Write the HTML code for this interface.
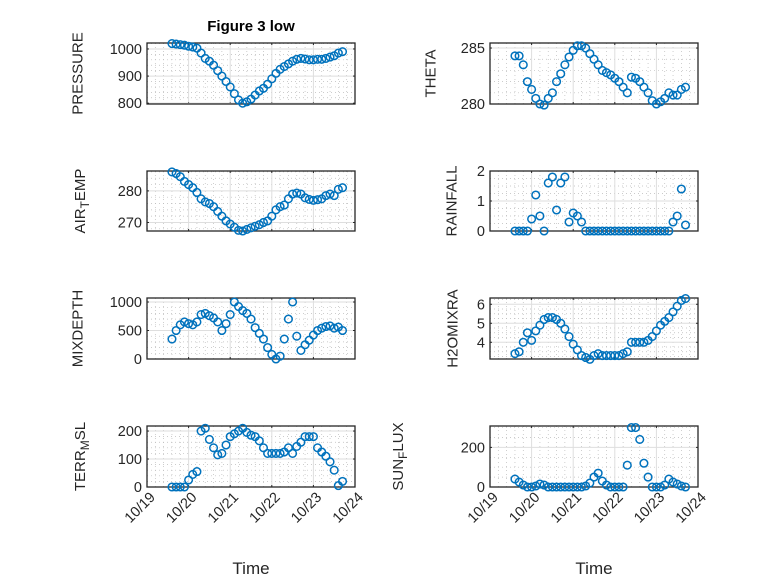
<!DOCTYPE html>
<html><head><meta charset="utf-8"><style>
html,body{margin:0;padding:0;background:#fff;}
svg text{font-family:"Liberation Sans","DejaVu Sans",sans-serif;fill:#262626;}
</style></head><body>
<svg id="fig" width="778" height="583" viewBox="0 0 778 583" xmlns="http://www.w3.org/2000/svg">
<rect width="778" height="583" fill="#fff"/>
<text x="251" y="31" text-anchor="middle" font-size="15" font-weight="bold" style="fill:#000">Figure 3 low</text>
</svg>
<script>
const tStart = 19.6, tStep = 0.1;
const xTicks = [19,20,21,22,23,24];
const xTickLabels = ['10/19','10/20','10/21','10/22','10/23','10/24'];
const pressure = [1020,1018,1016,1014,1010,1007,1003,985,965,955,940,920,900,880,860,835,812,800,805,815,830,845,855,870,890,910,925,935,945,955,962,965,963,960,960,962,962,965,970,975,985,990];
const airTemp = [286,285.5,284.5,283,282,281,279.5,277.5,276.5,276,275,273.5,272,270.5,269.5,268.5,267.5,267.3,267.8,268.3,268.8,269.3,270,270.5,272,274,275,275.5,277.5,279,279.3,279,277.8,277.3,277,277.2,277.5,278.5,279,278.5,280.5,281];
const mixDepth = [350,500,600,650,620,600,650,780,800,760,720,650,500,620,780,1000,920,850,800,700,550,450,350,200,80,0,50,350,700,1000,400,150,250,330,420,500,540,570,580,540,560,500];
const terrMsl = [0,0,0,0,25,45,55,200,210,170,140,115,120,150,180,190,200,210,195,185,180,165,140,120,120,120,120,125,140,120,145,160,180,180,180,140,125,110,90,60,5,20];
const theta = [284.3,284.3,283.5,282,281.3,280.5,280,279.9,280.5,281,282,282.7,283.5,284.2,284.8,285.2,285.2,285,284.5,284,283.5,283,282.8,282.6,282.3,282,281.5,281,282.4,282.3,282,281.5,281,280.3,280,280.2,280.5,281,280.8,280.8,281.3,281.5];
const rainfall = [0,0,0,0,0.4,1.2,0.5,0,1.6,1.8,0.7,1.6,1.8,0.3,0.6,0.5,0.3,0,0,0,0,0,0,0,0,0,0,0,0,0,0,0,0,0,0,0,0,0,0.3,0.5,1.4,0.2];
const h2o = [3.4,3.5,4.0,4.5,4.1,4.6,4.9,5.2,5.3,5.3,5.2,5.0,4.7,4.3,3.9,3.6,3.3,3.2,3.1,3.3,3.4,3.3,3.3,3.3,3.3,3.3,3.4,3.5,4.0,4.0,4.0,4.0,4.1,4.3,4.6,4.9,5.1,5.3,5.6,5.9,6.2,6.3];
const sunFlux = [40,25,10,0,0,5,15,10,0,0,0,0,0,0,0,0,0,5,20,50,70,30,10,0,0,0,0,110,300,300,240,120,50,0,0,0,10,40,25,15,5,0];

const NS='http://www.w3.org/2000/svg';
const svg=document.getElementById('fig');
function mk(tag,attrs,parent){const e=document.createElementNS(NS,tag);for(const k in attrs)e.setAttribute(k,attrs[k]);(parent||svg).appendChild(e);return e;}

const panels=[
 {name:'pressure',data:pressure,x0:147,y0:43,y1:104,ymin:797,ymax:1022,ticks:[800,900,1000],minor:20,label:['PRESSURE'],lx:78,last:false},
 {name:'theta',data:theta,x0:490,y0:43,y1:104,ymin:280,ymax:285.45,ticks:[280,285],minor:1,label:['THETA'],lx:431,last:false},
 {name:'air-temp',data:airTemp,x0:147,y0:171,y1:231,ymin:267.3,ymax:286.3,ticks:[270,280],minor:2,label:['AIR','T','EMP'],lx:80,last:false},
 {name:'rainfall',data:rainfall,x0:490,y0:171,y1:231,ymin:0,ymax:2,ticks:[0,1,2],minor:0.25,label:['RAINFALL'],lx:452,last:false},
 {name:'mixdepth',data:mixDepth,x0:147,y0:298,y1:359,ymin:0,ymax:1070,ticks:[0,500,1000],minor:100,label:['MIXDEPTH'],lx:78,last:false},
 {name:'h2omixra',data:h2o,x0:490,y0:298,y1:359,ymin:3.12,ymax:6.33,ticks:[4,5,6],minor:0.25,label:['H2OMIXRA'],lx:453,last:false},
 {name:'terr-msl',data:terrMsl,x0:147,y0:426,y1:487,ymin:0,ymax:218,ticks:[0,100,200],minor:20,label:['TERR','M','SL'],lx:80,last:true},
 {name:'sun-flux',data:sunFlux,x0:490,y0:426,y1:487,ymin:0,ymax:308,ticks:[0,200],minor:50,label:['SUN','F','LUX'],lx:398,last:true}
];
const W=208;
panels.forEach(p=>{
  const g=mk('g',{});
  
  
  const xs=t=>p.x0+(t-19)/5*W;
  const ys=v=>p.y1-(v-p.ymin)/(p.ymax-p.ymin)*(p.y1-p.y0);
  mk('rect',{x:p.x0,y:p.y0,width:W,height:p.y1-p.y0,fill:'#fff'},g);
  for(let t=19;t<24;t+=0.2){const x=xs(t);if(Math.abs((t%1))<0.01||Math.abs((t%1)-1)<0.01)continue;mk('line',{x1:x,x2:x,y1:p.y0,y2:p.y1,stroke:'#bbb','stroke-width':0.7,'stroke-dasharray':'1,3'},g);}
  for(let v=Math.ceil(p.ymin/p.minor)*p.minor;v<=p.ymax;v+=p.minor){if(p.ticks.some(k=>Math.abs(k-v)<1e-6))continue;const y=ys(v);mk('line',{x1:p.x0,x2:p.x0+W,y1:y,y2:y,stroke:'#bbb','stroke-width':0.7,'stroke-dasharray':'1,3'},g);}
  xTicks.forEach((t,i)=>{const x=xs(t);mk('line',{x1:x,x2:x,y1:p.y0,y2:p.y1,stroke:'#dedede','stroke-width':1},g);
    mk('line',{x1:x,x2:x,y1:p.y1,y2:p.y1-2,stroke:'#262626'},g);mk('line',{x1:x,x2:x,y1:p.y0,y2:p.y0+2,stroke:'#262626'},g);
    if(p.last){const tx=mk('text',{x:x+9,y:p.y1+11,'text-anchor':'end','font-size':14.5,transform:`rotate(-45 ${x+9} ${p.y1+11})`},g);tx.textContent=xTickLabels[i];
      
      }
  });
  p.ticks.forEach(v=>{const y=ys(v);mk('line',{x1:p.x0,x2:p.x0+W,y1:y,y2:y,stroke:'#dedede','stroke-width':1},g);
    mk('line',{x1:p.x0,x2:p.x0+2,y1:y,y2:y,stroke:'#262626'},g);mk('line',{x1:p.x0+W,x2:p.x0+W-2,y1:y,y2:y,stroke:'#262626'},g);
    const tx=mk('text',{x:p.x0-5,y:y+5,'text-anchor':'end','font-size':14.5},g);tx.textContent=v;
    
    
  });
  mk('rect',{x:p.x0,y:p.y0,width:W,height:p.y1-p.y0,fill:'none',stroke:'#262626','stroke-width':1.3},g);
  const cy=(p.y0+p.y1)/2;
  const lb=mk('text',{x:p.lx,y:cy,'text-anchor':'middle','dominant-baseline':'central','font-size':15,transform:`rotate(-90 ${p.lx} ${cy})`},g);
  
  
  if(p.label.length===1){lb.textContent=p.label[0];}
  else{const a=mk('tspan',{},lb);a.textContent=p.label[0];const b=mk('tspan',{dy:5,'font-size':12},lb);b.textContent=p.label[1];const c=mk('tspan',{dy:-5},lb);c.textContent=p.label[2];}
  p.data.forEach((v,i)=>{const t=tStart+i*tStep;
    const c=mk('circle',{cx:xs(t),cy:ys(v),r:3.8,fill:'none',stroke:'#0072BD','stroke-width':1.5},g);
    
    
  });
  if(p.last){const xl=mk('text',{x:p.x0+W/2,y:574,'text-anchor':'middle','font-size':17},g);xl.textContent='Time';
    
    }
});
</script>
</body></html>
